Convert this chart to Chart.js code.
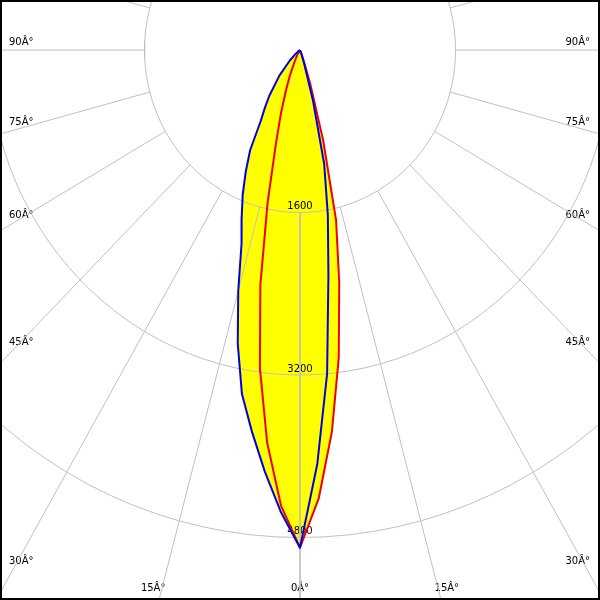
<!DOCTYPE html>
<html>
<head>
<meta charset="utf-8">
<script src="https://cdn.jsdelivr.net/npm/chart.js@4.4.1/dist/chart.umd.min.js"></script>
<style>
  html, body { margin: 0; padding: 0; background: #fff; }
  #wrap { width: 596px; height: 596px; border: 2px solid #000; }
</style>
</head>
<body>
<div id="wrap"><canvas id="polar-chart" width="596" height="596"></canvas></div>
<script>
// Angulos gamma (grados desde el nadir) e intensidades (cd) por plano C
const gammas = [0, 2.5, 5, 7.5, 10, 12.5, 15, 17.5, 20, 22.5, 25, 27.5, 30, 32.5, 35, 40, 45, 50, 60, 70, 80, 90];
const c0   = [4900, 4080, 3200, 2240, 1650, 1150, 520, 150, 40, 20, 10, 5, 0, 0, 0, 0, 0, 0, 0, 0, 0, 0];
const c180 = [4900, 4550, 4165, 3790, 3440, 2960, 2455, 2000, 1755, 1540, 1320, 1110, 810, 670, 550, 330, 150, 60, 10, 0, 0, 0];
const c90  = [4900, 4420, 3770, 3055, 2325, 1715, 920, 360, 100, 40, 10, 0, 0, 0, 0, 0, 0, 0, 0, 0, 0, 0];
const c270 = [4900, 4490, 3880, 3160, 2350, 1540, 960, 650, 420, 270, 150, 90, 50, 25, 10, 0, 0, 0, 0, 0, 0, 0];

// rejilla
const ringValues = [1600, 3200, 4800];
const spokeAngles = [-165, -150, -135, -120, -105, -90, -75, -60, -45, -30, -15, 0, 15, 30, 45, 60, 75, 90, 105, 120, 135, 150, 165, 180];
const sideLabels = [90, 75, 60, 45, 30];
const bottomLabels = [15, 0];

// escala en pixeles (el dibujo original esta algo comprimido en horizontal)
const pxPerCdX = 155.5 / 1600;
const pxPerCdY = 162.5 / 1600;
const originX = 298, originY = 48, size = 596;

const rad = d => d * Math.PI / 180;
const toXY = (g, r, side) => ({ x: side * r * Math.sin(rad(g)), y: r * Math.cos(rad(g)) });

// curva cerrada: lado izquierdo de 90 a 0, lado derecho de 0 a 90
function lobe(left, right) {
  const pts = [];
  for (let i = gammas.length - 1; i >= 0; i--) pts.push(toXY(gammas[i], left[i], -1));
  for (let i = 1; i < gammas.length; i++) pts.push(toXY(gammas[i], right[i], 1));
  return pts;
}

const lobeC0 = lobe(c180, c0);
const lobeC90 = lobe(c270, c90);

const datasets = [];
datasets.push({ data: lobeC0, borderColor: '#0000e6', borderWidth: 2, borderJoinStyle: 'round', order: 0 });
datasets.push({ data: lobeC90, borderColor: '#ee0000', borderWidth: 2, borderJoinStyle: 'round', order: 0 });

spokeAngles.forEach(a => {
  const s = a < 0 ? -1 : 1;
  datasets.push({
    kind: 'grid',
    data: [toXY(Math.abs(a), ringValues[0], s), toXY(Math.abs(a), 9000, s)],
    borderColor: '#c0c0c0', borderWidth: 1, order: 1
  });
});
ringValues.forEach(v => {
  const pts = [];
  for (let a = 0; a <= 360; a += 3) pts.push(toXY(a, v, 1));
  datasets.push({ kind: 'grid', data: pts, borderColor: '#c0c0c0', borderWidth: 1, order: 1 });
});

datasets.push({ data: lobeC0, borderWidth: 0, backgroundColor: '#ffff00', fill: 'shape', order: 2 });
datasets.push({ data: lobeC90, borderWidth: 0, backgroundColor: '#ffff00', fill: 'shape', order: 2 });

// textos: se pintan despues del relleno y antes de la rejilla
const polarLabels = {
  id: 'polarLabels',
  beforeDatasetsDraw() { this.done = false; },
  beforeDatasetDraw(chart, args) {
    if (this.done || chart.data.datasets[args.index].kind !== 'grid') return;
    this.done = true;
    const { ctx, chartArea } = chart;
    const xs = chart.scales.x, ys = chart.scales.y;
    const cx = xs.getPixelForValue(0), cy = ys.getPixelForValue(0);
    ctx.save();
    ctx.font = '10px "DejaVu Sans"';
    ctx.fillStyle = '#000';
    ctx.textBaseline = 'middle';
    ctx.textAlign = 'center';
    ringValues.forEach(v => ctx.fillText(String(v), cx, ys.getPixelForValue(v) - 6));

    sideLabels.forEach(a => {
      const y = cy - 8 + (cx + 2) / Math.tan(rad(a));
      ctx.textAlign = 'left';
      ctx.fillText(a + 'Â°', chartArea.left + 7, y);
      ctx.textAlign = 'right';
      ctx.fillText(a + 'Â°', chartArea.right - 8, y);
    });

    ctx.textAlign = 'center';
    bottomLabels.forEach(a => {
      const y = chartArea.bottom - 10;
      const dx = (chartArea.bottom - cy) * Math.tan(rad(a));
      ctx.fillText(a + 'Â°', cx - dx, y);
      if (a > 0) ctx.fillText(a + 'Â°', cx + dx, y);
    });
    ctx.restore();
  }
};

const ctx = document.getElementById('polar-chart').getContext('2d');
const chart = new Chart(ctx, {
  type: 'scatter',
  data: { datasets: datasets },
  options: {
    responsive: false,
    animation: false,
    showLine: true,
    layout: { padding: 0 },
    elements: { point: { radius: 0, hoverRadius: 0 }, line: { tension: 0 } },
    plugins: { legend: { display: false }, tooltip: { enabled: false } },
    scales: {
      x: { type: 'linear', display: false, min: -originX / pxPerCdX, max: (size - originX) / pxPerCdX },
      y: { type: 'linear', display: false, reverse: true, min: -originY / pxPerCdY, max: (size - originY) / pxPerCdY }
    }
  },
  plugins: [polarLabels]
});
</script>
</body>
</html>
